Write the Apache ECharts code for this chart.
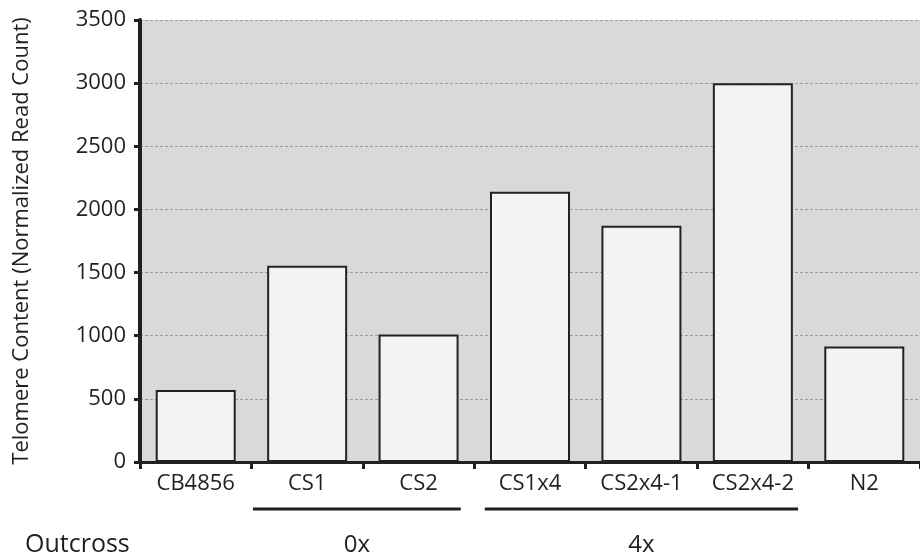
<!DOCTYPE html>
<html>
<head>
<meta charset="utf-8">
<script src="https://cdn.jsdelivr.net/npm/echarts@6/dist/echarts.min.js"></script>
<style>html,body{margin:0;padding:0;background:#fff}#c{width:920px;height:559px}</style>
</head>
<body>
<div id="c"></div>
<script>
var categories = ['CB4856', 'CS1', 'CS2', 'CS1x4', 'CS2x4-1', 'CS2x4-2', 'N2'];
var values = [570, 1555, 1010, 2140, 1870, 3000, 915];
var groups = [
  { label: '0x', from: 'CS1', to: 'CS2' },
  { label: '4x', from: 'CS1x4', to: 'CS2x4-2' }
];
var rowLabel = 'Outcross';
var yName = 'Telomere Content (Normalized Read Count)';

var FONT = '"Open Sans", sans-serif';
var TXT = '#231f20';
var chart = echarts.init(document.getElementById('c'), null, { renderer: 'canvas' });
var option = {
  animation: false,
  backgroundColor: '#ffffff',
  grid: { left: 140, top: 20, width: 787, height: 442, show: true, backgroundColor: '#d8d9db', borderWidth: 0 },
  xAxis: {
    type: 'category',
    data: categories,
    axisLine: { lineStyle: { color: TXT, width: 3 } },
    axisTick: { show: true, length: 7, lineStyle: { color: TXT, width: 3 } },
    axisLabel: { color: TXT, fontFamily: FONT, fontSize: 22, margin: 11 },
    splitLine: { show: false }
  },
  yAxis: {
    type: 'value',
    min: 0, max: 3500, interval: 500,
    name: yName,
    nameLocation: 'middle',
    nameGap: 107,
    nameTextStyle: { color: TXT, fontFamily: FONT, fontSize: 22 },
    axisLine: { show: true, lineStyle: { color: TXT, width: 4 } },
    axisTick: { show: true, length: 6, lineStyle: { color: TXT, width: 3 } },
    axisLabel: { color: TXT, fontFamily: FONT, fontSize: 22, margin: 14, formatter: function (v) { return String(v); } },
    splitLine: { show: true, lineStyle: { color: '#9a9a9a', type: [3, 2], width: 1 } }
  },
  series: [{
    type: 'bar',
    data: values,
    barWidth: 80,
    itemStyle: { color: '#f2f3f3', borderColor: '#222222', borderWidth: 2 }
  }]
};
chart.setOption(option);

var g = [];
var lineY = 509;
var pads = [[2, 14], [11, 11]];
groups.forEach(function (gr, k) {
  var half = 787 / categories.length / 2;
  var x0 = chart.convertToPixel({ xAxisIndex: 0 }, gr.from) - half + pads[k][0];
  var x1 = chart.convertToPixel({ xAxisIndex: 0 }, gr.to) + half - pads[k][1];
  g.push({ type: 'line', shape: { x1: x0, y1: lineY, x2: x1, y2: lineY }, style: { stroke: TXT, lineWidth: 3 } });
  g.push({ type: 'text', x: (x0 + x1) / 2, y: 545, style: { text: gr.label, fill: TXT, font: '24px ' + FONT, textAlign: 'center', textVerticalAlign: 'middle' } });
});
g.push({ type: 'text', x: 25, y: 545, style: { text: rowLabel, fill: TXT, font: '25px ' + FONT, textAlign: 'left', textVerticalAlign: 'middle' } });
chart.setOption({ graphic: g });
</script>
</body>
</html>
